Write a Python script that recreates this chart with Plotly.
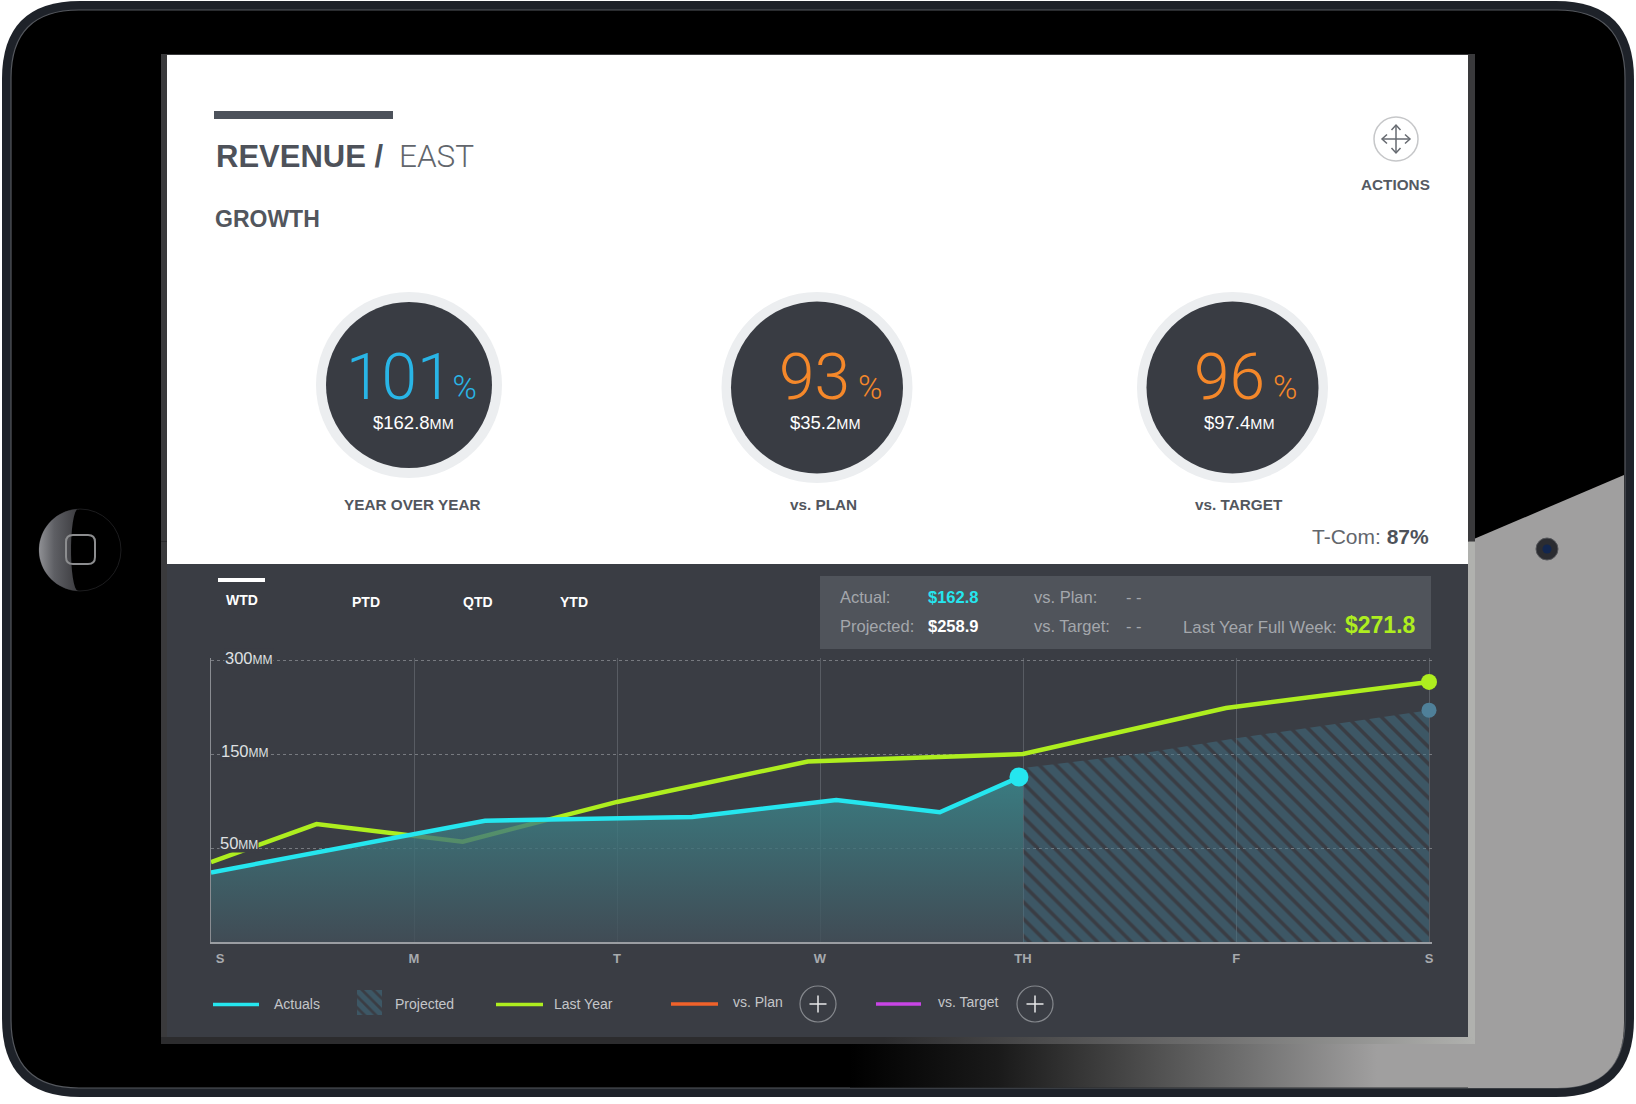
import numpy as np
import plotly.graph_objects as go

# chart data, days run 0 (S) to 6 (S), values in MM
day_ticks = [0, 1, 2, 3, 4, 5.05, 6]
day_labels = ["\u00a0\u00a0\u00a0\u00a0\u00a0S", "M", "T", "W", "TH", "F", "S"]
value_ticks = [0, 50, 150, 300]
value_labels = ["", "50", "150", "300"]

actual_days = [0, 1.35, 2.37, 3.08, 3.59, 4.0]
actual_values = [37, 79, 83, 101, 88, 127]
actual_dot = (3.98, 125.5)
last_year_days = [0, 0.52, 1.24, 2.0, 2.94, 4.0, 5.0, 6.0]
last_year_values = [42.5, 75.5, 56.7, 99, 142, 150, 223.5, 265]
projected_days = [4.0, 4.59, 5.05, 6.0]
projected_values = [135, 151, 175, 220]

# gauges
gauge_pct = ["101", "93", "96"]
gauge_gap = ["", "\u00a0", "\u00a0"]
gauge_money = ["$162.8", "$35.2", "$97.4"]
gauge_names = ["YEAR OVER YEAR", "vs. PLAN", "vs. TARGET"]
gauge_colors = ["#29b5e6", "#f5882a", "#f5882a"]

tab_names = ["WTD", "PTD", "QTD", "YTD"]

SANS = "Liberation Sans"
LIGHT = "Roboto"
PANEL = "#3a3d44"
CYAN = "#25e6ef"
LIME = "#aeee1f"
HATCH = "#3f7186"


def to_pos(values):
    """The value axis has evenly spaced ticks at 0, 50, 150, 300"""
    return np.interp(values, value_ticks, range(len(value_ticks)))


def rounded(x0, y0, x1, y1, r):
    return (
        f"M {x0 + r} {y0} L {x1 - r} {y0} Q {x1} {y0} {x1} {y0 + r} "
        f"L {x1} {y1 - r} Q {x1} {y1} {x1 - r} {y1} "
        f"L {x0 + r} {y1} Q {x0} {y1} {x0} {y1 - r} "
        f"L {x0} {y0 + r} Q {x0} {y0} {x0 + r} {y0} Z"
    )


fig = go.Figure()


def add_path(path, fill="rgba(0,0,0,0)", line=None, width=0, layer="below"):
    fig.add_shape(type="path", path=path, xref="x", yref="y", layer=layer,
                  fillcolor=fill, line=dict(color=line or "rgba(0,0,0,0)", width=width))


def add_rect(x0, y0, x1, y1, fill):
    fig.add_shape(type="rect", x0=x0, y0=y0, x1=x1, y1=y1, xref="x", yref="y",
                  layer="below", fillcolor=fill, line=dict(width=0))


def add_circle(cx, cy, r, fill="rgba(0,0,0,0)", line=None, width=0):
    fig.add_shape(type="circle", x0=cx - r, y0=cy - r, x1=cx + r, y1=cy + r,
                  xref="x", yref="y", layer="below", fillcolor=fill,
                  line=dict(color=line or "rgba(0,0,0,0)", width=width))


def add_line(x0, y0, x1, y1, color, width):
    fig.add_shape(type="line", x0=x0, y0=y0, x1=x1, y1=y1, xref="x", yref="y",
                  layer="below", line=dict(color=color, width=width))


def add_text(x, y, text, size, color, anchor="left", weight=400, family=SANS):
    fig.add_annotation(x=x, y=y, xref="x", yref="y", text=text, showarrow=False,
                       xanchor=anchor, yanchor="middle", borderpad=0,
                       font=dict(family=family, size=size, color=color, weight=weight))


def add_gradient(xs, ys, stops, kind="horizontal"):
    fig.add_trace(go.Scatter(x=xs, y=ys, mode="none", fill="toself", hoverinfo="skip",
                             showlegend=False,
                             fillgradient=dict(type=kind, colorscale=stops)))


# device body
add_path(rounded(2, 1, 1634, 1097, 78), fill="#1e2229")
add_path(rounded(11, 10, 1625, 1088, 68), fill="#000000", line="#55585e", width=1.2)
add_path("M 1468 541.5 L 1624 475 L 1624 1023 Q 1624 1088 1557 1088 L 1468 1088 Z", fill="#a09f9f")
add_rect(1468, 541.5, 1475, 1044, "#b0b1ae")

# reflection along the bottom edge
add_gradient([850, 1470, 1470, 850], [1044, 1044, 1087.5, 1087.5],
             [[0, "#000000"], [0.24, "#1a1a1a"], [0.4, "#3c3c3c"], [0.63, "#6e6e6e"],
              [0.85, "#a09f9f"], [1, "#a09f9f"]])
add_gradient([161, 1475, 1475, 161], [1037, 1037, 1044, 1044],
             [[0, "#2c2c2e"], [0.55, "#2c2c2e"], [0.8, "#6f6f6f"], [1, "#b0b1ae"]])

# home button, a lit crescent on the left of the ring
outer = np.linspace(np.pi * 0.48, np.pi * 1.52, 40)
inner = np.linspace(-0.5, 0.5, 16) * np.pi
add_circle(80, 550, 41, line="#1c1c1e", width=1)
add_gradient(list(80 + 41 * np.cos(outer)) + list(78 - 7 * np.cos(inner)),
             list(550 + 41 * np.sin(outer)) + list(550 + 41 * np.sin(inner)),
             [[0, "#8f9094"], [0.35, "#5e5f64"], [0.85, "#3e3e42"], [1, "#232326"]])
add_path(rounded(66, 535, 95, 564, 7), line="#8c8d8f", width=2, layer="above")

# camera
add_circle(1547, 549, 11, fill="#2b2c31", line="#55565a", width=1)
add_circle(1547, 549, 4.5, fill="#12264f")

# screen
add_rect(161, 54, 1475, 541.5, "#3a3a3c")
add_rect(161, 541.5, 1468, 1037, "#3a3a3c")
add_rect(167, 55, 1468, 564, "#ffffff")
add_rect(167, 564, 1468, 1037, PANEL)

# header
add_rect(214, 111, 393, 119, "#4d525b")
add_text(215, 156.5, "REVENUE /", 31, "#4e525a", weight=700)
add_text(398, 156.5, "EAST", 31.5, "#62666c", family=LIGHT, weight=300)
add_text(214, 219, "GROWTH", 23, "#52565d", weight=700)

# actions icon
add_circle(1396, 139, 22, fill="#ffffff", line="#c6c7c9", width=1.5)
add_line(1383, 139, 1409, 139, "#666a70", 1.5)
add_line(1396, 126, 1396, 152, "#666a70", 1.5)
for path in ["M 1387 134.5 L 1382 139 L 1387 143.5", "M 1405 134.5 L 1410 139 L 1405 143.5",
             "M 1391.5 130 L 1396 125 L 1400.5 130", "M 1391.5 148 L 1396 153 L 1400.5 148"]:
    add_path(path, line="#666a70", width=1.5)
add_text(1395, 184.5, "ACTIONS", 15.3, "#555a62", anchor="center", weight=700)

# gauges
centers = [(409, 385, 83, 93), (817, 387.5, 86, 95.5), (1232.5, 387.5, 86, 95.5)]
pct_x = [411, 830, 1245]
money_x = [413, 825, 1238.5]
name_x = [412, 823, 1238.5]
for i, (cx, cy, inner_r, outer_r) in enumerate(centers):
    add_circle(cx, cy, outer_r, fill="#eceef0")
    add_circle(cx, cy, inner_r, fill="#393c43")
    add_text(pct_x[i], 377,
             f'{gauge_pct[i]}<span style="font-size:33px">{gauge_gap[i]}%</span>',
             64, gauge_colors[i], anchor="center", family=LIGHT, weight=300)
    add_text(money_x[i], 422,
             f'{gauge_money[i]}<span style="font-size:14.5px">MM</span>',
             18.5, "#ffffff", anchor="center")
    add_text(name_x[i], 504, gauge_names[i], 15.3, "#52565d", anchor="center", weight=700)

add_text(1430, 536, '<span style="color:#62666c">T-Com: </span><b>87%</b>', 21, "#4e525a", anchor="right")

# tabs
add_rect(218, 578, 265, 582, "#ffffff")
for name, x, y in zip(tab_names, [242, 366, 478, 574], [600, 602, 602, 602]):
    add_text(x, y, name, 14, "#ffffff", anchor="center", weight=700)

# summary box
add_rect(820, 576, 1431, 649, "#50545b")
add_text(839, 597, "Actual:", 16.5, "#a4a7ac")
add_text(927, 597, "$162.8", 16.5, CYAN, weight=700)
add_text(1033, 597, "vs. Plan:", 16.5, "#a4a7ac")
add_text(1125, 597, "- -", 16.5, "#a4a7ac")
add_text(839, 626, "Projected:", 16.5, "#a4a7ac")
add_text(927, 626, "$258.9", 16.5, "#ffffff", weight=700)
add_text(1033, 626, "vs. Target:", 16.5, "#a4a7ac")
add_text(1125, 626, "- -", 16.5, "#a4a7ac")
add_text(1182, 627, "Last Year Full Week:", 16.8, "#a4a7ac")
add_text(1344, 625, "$271.8", 23, LIME, weight=700)

# legend row
add_line(213, 1004.5, 259, 1004.5, CYAN, 3.5)
add_text(273, 1004, "Actuals", 14, "#c4c6c9")
fig.add_trace(go.Scatter(x=[357, 382, 382, 357], y=[990, 990, 1015, 1015], mode="none",
                         fill="toself", hoverinfo="skip", showlegend=False,
                         fillcolor="rgba(0,0,0,0)",
                         fillpattern=dict(shape="\\", size=8, solidity=0.65, fgcolor=HATCH,
                                          bgcolor="rgba(0,0,0,0)")))
add_text(394, 1004, "Projected", 14, "#c4c6c9")
add_line(496, 1004.5, 543, 1004.5, LIME, 3.5)
add_text(553, 1004, "Last Year", 14, "#c4c6c9")
add_line(671, 1004, 718, 1004, "#f0622a", 3.5)
add_text(732, 1002, "vs. Plan", 14, "#c4c6c9")
add_line(876, 1004, 921, 1004, "#c845e6", 3.5)
add_text(937, 1002, "vs. Target", 14, "#c4c6c9")
for cx in [818, 1035]:
    add_circle(cx, 1004, 18, line="#85888d", width=1.2)
    add_line(cx - 8.5, 1004, cx + 8.5, 1004, "#e8e9ea", 1.5)
    add_line(cx, 995.5, cx, 1012.5, "#e8e9ea", 1.5)

# line chart
fig.add_trace(go.Scatter(x=projected_days, y=to_pos(projected_values), mode="none", fill="tozeroy",
                         fillcolor="rgba(0,0,0,0)", hoverinfo="skip", showlegend=False,
                         fillpattern=dict(shape="\\", size=12, solidity=0.7, fgcolor=HATCH,
                                          bgcolor="rgba(0,0,0,0)"),
                         xaxis="x2", yaxis="y2"))
fig.add_trace(go.Scatter(x=last_year_days, y=to_pos(last_year_values), mode="lines",
                         line=dict(color=LIME, width=4.5), showlegend=False, cliponaxis=False,
                         xaxis="x2", yaxis="y2"))
fig.add_trace(go.Scatter(x=actual_days, y=to_pos(actual_values), mode="lines", fill="tozeroy",
                         line=dict(color=CYAN, width=4.5), showlegend=False, cliponaxis=False,
                         fillgradient=dict(type="vertical", colorscale=[
                             [0, "rgba(66,79,89,0.8)"], [1, "rgba(58,140,145,0.8)"]]),
                         xaxis="x2", yaxis="y2"))
fig.add_trace(go.Scatter(x=[actual_dot[0]], y=to_pos([actual_dot[1]]), mode="markers",
                         marker=dict(color=CYAN, size=19), showlegend=False, cliponaxis=False,
                         xaxis="x2", yaxis="y2"))
fig.add_trace(go.Scatter(x=[last_year_days[-1]], y=to_pos([last_year_values[-1]]), mode="markers",
                         marker=dict(color=LIME, size=16), showlegend=False, cliponaxis=False,
                         xaxis="x2", yaxis="y2"))
fig.add_trace(go.Scatter(x=[projected_days[-1]], y=to_pos([projected_values[-1]]), mode="markers",
                         marker=dict(color="#4f8099", size=15), showlegend=False, cliponaxis=False,
                         xaxis="x2", yaxis="y2"))

# value labels sit on the axis and hide the lines behind them
for pos, label, shift, lift in zip([1, 2, 3], value_labels[1:], [8, 9, 13], [5, 3, 2]):
    fig.add_annotation(x=0, y=pos, xref="x2", yref="y2", xanchor="left", yanchor="middle",
                       xshift=shift, yshift=lift, showarrow=False, bgcolor=PANEL, borderpad=0,
                       text=f'{label}<span style="font-size:12px">MM</span>',
                       font=dict(family=SANS, size=16.5, color="#dfe0e2"))

# the axes run a little past the last ticks, plotly drops grid lines right at the edge
fig.update_layout(
    width=1636, height=1104, margin=dict(l=0, r=0, t=0, b=0),
    paper_bgcolor="#ffffff", plot_bgcolor="rgba(0,0,0,0)",
    hovermode=False,
    xaxis=dict(domain=[0, 1], range=[0, 1636], visible=False, fixedrange=True, automargin=False),
    yaxis=dict(domain=[0, 1], range=[1104, 0], visible=False, fixedrange=True, automargin=False),
    xaxis2=dict(domain=[211 / 1636, 1432 / 1636], range=[0, 6.0148], anchor="y2", fixedrange=True,
                automargin=False,
                tickvals=day_ticks, ticktext=day_labels, ticks="", ticklabelstandoff=3,
                tickfont=dict(family=SANS, size=13, color="#a7aaae", weight=700),
                showgrid=True, gridcolor="#585c63", gridwidth=1, zeroline=False,
                showline=True, linecolor="#9a9da2", linewidth=2),
    yaxis2=dict(domain=[1 - 942 / 1104, 1 - 658 / 1104], range=[0, 3.0213], anchor="x2", fixedrange=True,
                automargin=False,
                tickvals=[1, 2, 3], showticklabels=False, ticks="",
                showgrid=True, gridcolor="#777a80", gridwidth=1, griddash="dot", zeroline=False,
                showline=True, linecolor="#8a8d92", linewidth=1),
)

fig.write_html("out.html", config={"displayModeBar": False}, post_script="document.body.style.margin='0';")
